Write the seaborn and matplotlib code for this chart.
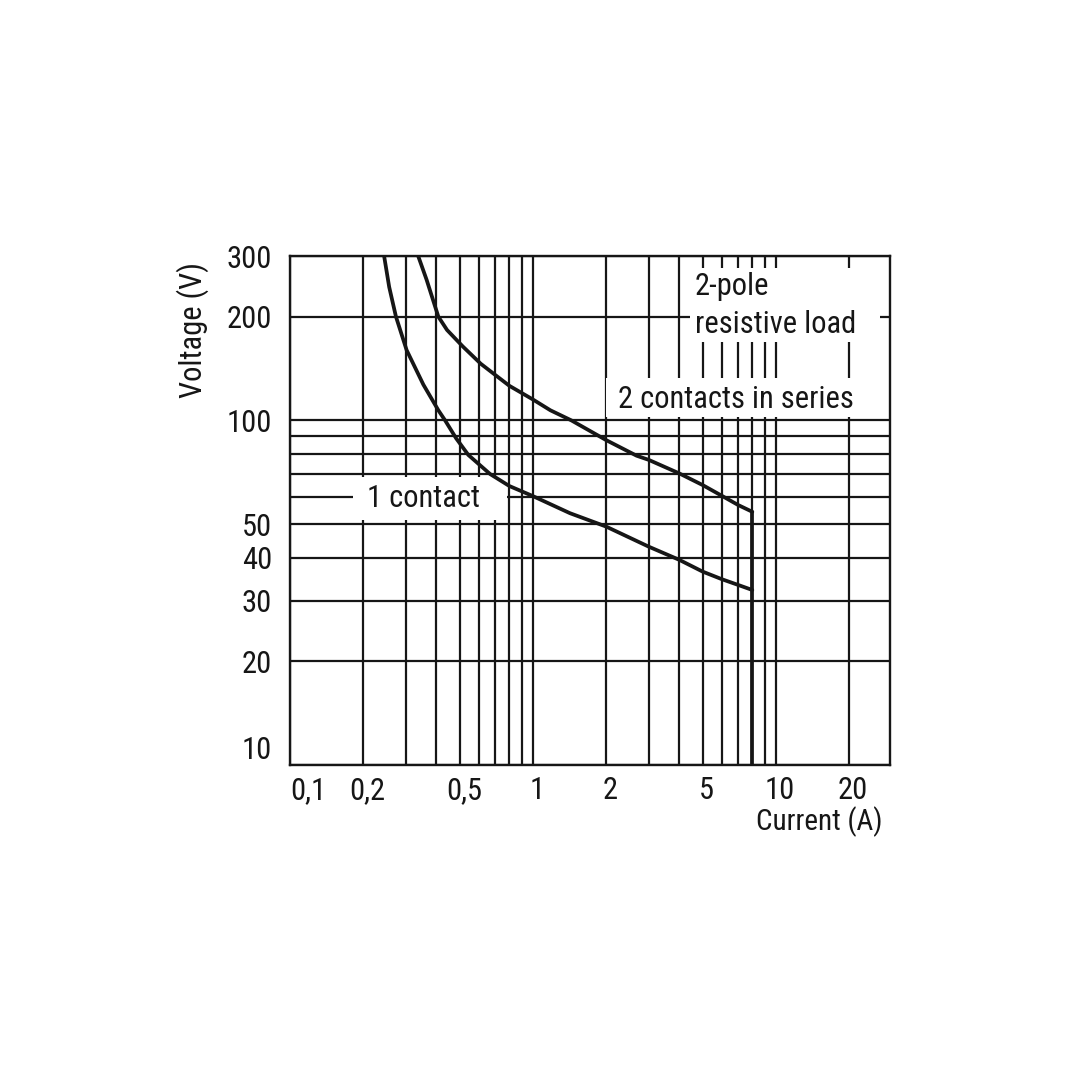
import matplotlib
matplotlib.use("Agg")
import matplotlib.pyplot as plt
from matplotlib import font_manager
from matplotlib.patches import Rectangle
from matplotlib.transforms import ScaledTranslation
import seaborn as sns
import pandas as pd

# ---- data ----
one_contact_I = [0.244, 0.256, 0.273, 0.302, 0.354, 0.408, 0.435, 0.483, 0.542, 0.61, 0.666, 0.8, 1.0,
                 1.42, 2.0, 3.0, 4.0, 5.0, 6.0, 7.0, 8.0]
one_contact_V = [300, 244, 200, 160, 127, 107, 100, 88.7, 79.4, 73.8, 69.9, 64.5, 60.3,
                 53.8, 49.2, 43.0, 39.4, 36.4, 34.6, 33.3, 32.2]

series_I = [0.337, 0.365, 0.408, 0.443, 0.514, 0.61, 0.714, 0.8, 1.0, 1.18, 1.44, 2.0, 2.67, 3.0,
            4.0, 5.0, 6.0, 7.0, 8.0]
series_V = [300, 256, 200, 183, 164, 146, 134, 126, 115, 107, 100, 87.7, 79, 76.8,
            70.2, 64.9, 60.4, 56.8, 54.3]

limit_I = [8.0, 8.0]
limit_V = [54.3, 10]

x_major = [0.1, 0.2, 0.5, 1, 2, 5, 10, 20]
x_labels = ["0,1", "0,2", "0,5", "1", "2", "5", "10", "20"]
x_minor = [0.3, 0.4, 0.6, 0.7, 0.8, 0.9, 3, 4, 6, 7, 8, 9]
y_major = [10, 20, 30, 40, 50, 100, 200, 300]
y_labels = ["10", "20", "30", "40", "50", "100", "200", "300"]
y_minor = [60, 70, 80, 90]

sns.set_theme(style="white")
names = {f.name for f in font_manager.fontManager.ttflist}
fam = "Roboto"
k = 0.88
for cand in ["Roboto Condensed", "Liberation Sans Narrow", "Archivo Narrow", "PT Sans Narrow"]:
    if cand in names:
        fam = cand
        k = 1.0
        break
plt.rcParams["font.family"] = [fam, "DejaVu Sans"]

INK = "#161616"
fig = plt.figure(figsize=(10.8, 10.8), dpi=100)
ax = fig.add_axes([290 / 1080, 1 - 765 / 1080, 600 / 1080, 509 / 1080])
ax.set_xscale("log")
ax.set_yscale("log")
ax.set_xlim(0.1, 29.5)
ax.set_ylim(10, 300)

df1 = pd.DataFrame({"I": one_contact_I, "V": one_contact_V})
df2 = pd.DataFrame({"I": series_I, "V": series_V})
df3 = pd.DataFrame({"I": limit_I, "V": limit_V})
for d in (df1, df2, df3):
    sns.lineplot(data=d, x="I", y="V", ax=ax, color=INK, lw=2.7, sort=False,
                 estimator=None, zorder=4, solid_joinstyle="round")

ax.set_xticks(x_major)
ax.set_xticklabels(x_labels)
ax.set_xticks(x_minor, minor=True)
ax.set_yticks(y_major)
ax.set_yticklabels(y_labels)
ax.set_yticks(y_minor, minor=True)
ax.set_xticklabels([], minor=True)
ax.set_yticklabels([], minor=True)
ax.grid(True, which="both", color=INK, lw=1.6)
ax.set_axisbelow(True)
ax.tick_params(which="both", length=0, labelsize=22 * k, colors=INK)
ax.tick_params(axis="x", pad=8)
ax.tick_params(axis="y", pad=13)
xl = ax.get_xticklabels()
xl[0].set_horizontalalignment("left")
shift = ScaledTranslation(4 / 100, 0, fig.dpi_scale_trans)
for lab in xl[1:]:
    lab.set_transform(lab.get_transform() + shift)
yl = ax.get_yticklabels()
yl[0].set_verticalalignment("bottom")

for s in ax.spines.values():
    s.set_color(INK)
    s.set_linewidth(1.7)
    s.set_zorder(5)

ax.set_xlabel("")
ax.set_ylabel("")

# white label backgrounds (interrupt grid like the reference)
for (x0, y0, w, h) in [(0.667, 0.831, 0.316, 0.145), (0.527, 0.683, 0.473, 0.077), (0.105, 0.482, 0.257, 0.084)]:
    ax.add_patch(Rectangle((x0, y0), w, h, transform=ax.transAxes, facecolor="white",
                           edgecolor="none", zorder=2))

tk = dict(transform=ax.transAxes, fontsize=22 * k, color=INK, va="baseline", ha="left", zorder=6)
ax.text(0.675, 0.9234, "2-pole", **tk)
ax.text(0.675, 0.8487, "resistive load", **tk)
ax.text(0.5467, 0.7014, "2 contacts in series", **tk)
ax.text(0.1283, 0.5069, "1 contact", **tk)

ax.text(0.988, -0.128, "Current (A)", transform=ax.transAxes, fontsize=21 * k, color=INK,
        ha="right", va="baseline")
ax.text(-0.162, 0.855, "Voltage (V)", transform=ax.transAxes, fontsize=22 * k, color=INK,
        ha="center", va="center", rotation=90)

fig.savefig("out.png", dpi=100, facecolor="white")
